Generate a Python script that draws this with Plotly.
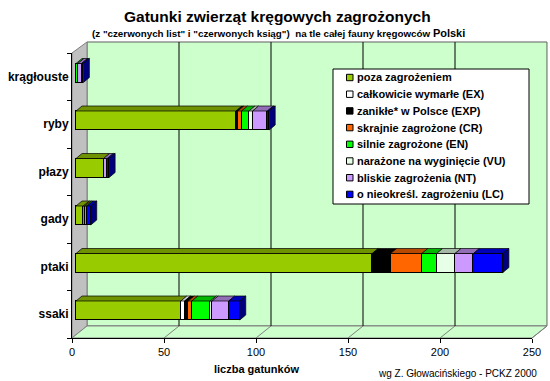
import plotly.graph_objects as go

W, H = 550, 381

# ---------------- data ----------------
categories = ['krągłouste', 'ryby', 'płazy', 'gady', 'ptaki', 'ssaki']  # top -> bottom
series_names = ['poza zagrożeniem', 'całkowicie wymarłe (EX)', 'zanikłe* w Polsce (EXP)',
                'skrajnie zagrożone (CR)', 'silnie zagrożone (EN)', 'narażone na wyginięcie (VU)',
                'bliskie zagrożenia (NT)', 'o nieokreśl. zagrożeniu (LC)']
poza = [0, 87, 15, 4, 161, 57]
ex   = [0, 0, 0, 0, 0, 2]
exp_ = [0, 1, 0, 0, 10, 2]
cr   = [0, 2, 0, 1, 17, 2]
en   = [1, 4, 0, 1, 8, 10]
vu   = [0, 2, 0, 0, 10, 1]
nt   = [2, 8, 2, 0, 10, 9]
lc   = [1, 1, 1, 2, 16, 6]
x_ticks = [0, 50, 100, 150, 200, 250]

series_values = [poza, ex, exp_, cr, en, vu, nt, lc]
colors = ['#99CC00', '#FFFFFF', '#000000', '#FF6600', '#00FF00', '#E6FFE6', '#CC99FF', '#0000FF']

# ---------------- geometry helpers ----------------
def PX(x):
    return x / W

def PY(y):
    return 1 - y / H

FRONT_X0, BACK_X0 = 72, 87        # pixel position of value 0 on front / back plane
SCALE = 1.84                      # px per unit
FRONT_Y, BACK_Y, TOP_BACK, TOP_FRONT = 338, 326, 42, 53
BAR_X0 = 76
DEPTH_DX, DEPTH_DY = 6, 5         # bar 3D depth in px
CAT_PX = (FRONT_Y - TOP_FRONT) / len(categories)
BAR_W = 0.4
BAR_OFF = -0.2 + 3.75 / CAT_PX

cat_order = list(reversed(categories))  # index 0 at bottom

def shade(hexcol, f):
    h = hexcol.lstrip('#')
    r, g, b = (int(h[i:i + 2], 16) for i in (0, 2, 4))
    return '#%02X%02X%02X' % (int(r * f), int(g * f), int(b * f))

FONT = 'Arial, Liberation Sans, sans-serif'

fig = go.Figure()

# ---------------- bars ----------------
for name, vals, col in zip(series_names, series_values, colors):
    fig.add_trace(go.Bar(
        orientation='h', y=categories, x=vals, name=name,
        xaxis='x2', yaxis='y', width=BAR_W, offset=BAR_OFF,
        marker=dict(color=col, line=dict(color='#000000', width=1)),
        showlegend=False, hoverinfo='x+y'))

# invisible helpers to instantiate the axes
fig.add_trace(go.Scatter(x=[0], y=[categories[-1]], xaxis='x', yaxis='y', mode='markers',
                         marker=dict(opacity=0), showlegend=False, hoverinfo='skip'))
fig.add_trace(go.Scatter(x=[0], y=[0], xaxis='x2', yaxis='y2', mode='markers',
                         marker=dict(opacity=0), showlegend=False, hoverinfo='skip'))

shapes = []

# ---------------- walls / floor ----------------
back_right = BACK_X0 + SCALE * x_ticks[-1]
front_right = FRONT_X0 + SCALE * x_ticks[-1]
def poly(pts):
    return 'M ' + ' L '.join('%.4f,%.4f' % (PX(x), PY(y)) for x, y in pts) + ' Z'

shapes.append(dict(type='path', xref='paper', yref='paper', layer='below',
                   path=poly([(BACK_X0, TOP_BACK), (back_right, TOP_BACK), (back_right, BACK_Y), (BACK_X0, BACK_Y)]),
                   fillcolor='#CCFFCC', line=dict(color='#606060', width=1)))
shapes.append(dict(type='path', xref='paper', yref='paper', layer='below',
                   path=poly([(FRONT_X0, TOP_FRONT), (BACK_X0, TOP_BACK), (BACK_X0, BACK_Y), (FRONT_X0, FRONT_Y)]),
                   fillcolor='#C0C0C0', line=dict(color='#808080', width=1)))
shapes.append(dict(type='path', xref='paper', yref='paper', layer='below',
                   path=poly([(FRONT_X0, FRONT_Y), (BACK_X0, BACK_Y), (back_right, BACK_Y), (front_right, FRONT_Y)]),
                   fillcolor='#CCFFCC', line=dict(color='#808080', width=1)))
for v in x_ticks[1:-1]:
    bx = BACK_X0 + SCALE * v
    shapes.append(dict(type='line', xref='paper', yref='paper', layer='below',
                       x0=PX(bx), x1=PX(bx), y0=PY(TOP_BACK), y1=PY(BACK_Y),
                       line=dict(color='#000000', width=1)))
for v in x_ticks[1:]:
    shapes.append(dict(type='line', xref='paper', yref='paper', layer='below',
                       x0=PX(FRONT_X0 + SCALE * v), y0=PY(FRONT_Y),
                       x1=PX(BACK_X0 + SCALE * v), y1=PY(BACK_Y),
                       line=dict(color='#808080', width=1)))

# ---------------- 3D faces of bars ----------------
dx = DEPTH_DX / SCALE
dy = DEPTH_DY / CAT_PX
for ci, cat in enumerate(categories):
    idx = cat_order.index(cat)
    yb = idx + BAR_OFF
    yt = yb + BAR_W
    cum = 0
    last_col = None
    for vals, col in zip(series_values, colors):
        v = vals[ci]
        if v <= 0:
            continue
        x0, x1 = cum, cum + v
        shapes.append(dict(type='path', xref='x2', yref='y2', layer='above',
                           path='M %f,%f L %f,%f L %f,%f L %f,%f Z' % (x0, yt, x1, yt, x1 + dx, yt + dy, x0 + dx, yt + dy),
                           fillcolor=shade(col, 0.72) if col != '#FFFFFF' else '#D0D0D0',
                           line=dict(color='#000000', width=0.7)))
        cum = x1
        last_col = col
    if last_col is not None:
        shapes.append(dict(type='path', xref='x2', yref='y2', layer='above',
                           path='M %f,%f L %f,%f L %f,%f L %f,%f Z' % (cum, yb, cum, yt, cum + dx, yt + dy, cum + dx, yb + dy),
                           fillcolor=shade(last_col, 0.5) if last_col != '#FFFFFF' else '#A0A0A0',
                           line=dict(color='#000000', width=0.7)))

# ---------------- manual legend ----------------
LEG_X0, LEG_X1, LEG_Y0, LEG_Y1 = 333, 529, 69, 204
shapes.append(dict(type='rect', xref='paper', yref='paper', layer='above',
                   x0=PX(LEG_X0), x1=PX(LEG_X1), y0=PY(LEG_Y1), y1=PY(LEG_Y0),
                   fillcolor='#FFFFFF', line=dict(color='#000000', width=1)))
annotations = []
for i, (name, col) in enumerate(zip(series_names, colors)):
    yc = 77.5 + 16.7 * i
    shapes.append(dict(type='rect', xref='paper', yref='paper', layer='above',
                       x0=PX(346.5), x1=PX(353), y0=PY(yc + 3.2), y1=PY(yc - 3.2),
                       fillcolor=col, line=dict(color='#000000', width=1)))
    annotations.append(dict(xref='paper', yref='paper', x=PX(355), y=PY(yc), xanchor='left', yanchor='middle',
                            text=name, showarrow=False,
                            font=dict(family=FONT, size=11, color='#000000', weight='bold')))

# ---------------- texts ----------------
annotations.append(dict(xref='paper', yref='paper', x=PX(277), y=PY(16), xanchor='center', yanchor='middle',
                        text='Gatunki zwierząt kręgowych zagrożonych', showarrow=False,
                        font=dict(family=FONT, size=15.5, color='#000000', weight='bold')))
annotations.append(dict(xref='paper', yref='paper', x=PX(278), y=PY(33), xanchor='center', yanchor='middle',
                        text='(z "czerwonych list" i "czerwonych ksiąg")  na tle całej fauny kręgowców <span style="font-size:11px">Polski</span>',
                        showarrow=False,
                        font=dict(family=FONT, size=9.8, color='#000000', weight='bold')))
annotations.append(dict(xref='paper', yref='paper', x=PX(256), y=PY(369), xanchor='center', yanchor='middle',
                        text='liczba gatunków', showarrow=False,
                        font=dict(family=FONT, size=11, color='#000000', weight='bold')))
annotations.append(dict(xref='paper', yref='paper', x=PX(539), y=PY(373), xanchor='right', yanchor='middle',
                        text='wg Z. Głowacińskiego - PCKZ 2000', showarrow=False,
                        font=dict(family=FONT, size=10, color='#000000')))

fig.update_layout(
    width=W, height=H,
    margin=dict(l=0, r=0, t=0, b=0),
    paper_bgcolor='#FFFFFF', plot_bgcolor='rgba(0,0,0,0)',
    barmode='stack', bargap=0,
    showlegend=False,
    shapes=shapes, annotations=annotations,
    xaxis=dict(domain=[PX(FRONT_X0), PX(front_right)], range=[x_ticks[0], x_ticks[-1]],
               anchor='y', tickvals=x_ticks, ticks='outside', ticklen=4, tickcolor='#000000',
               showline=True, linecolor='#000000', linewidth=1, showgrid=False, zeroline=False,
               tickfont=dict(family=FONT, size=11, color='#000000'),
               fixedrange=True, automargin=False),
    xaxis2=dict(domain=[PX(FRONT_X0), PX(548)],
                range=[(FRONT_X0 - BAR_X0) / SCALE, (548 - BAR_X0) / SCALE],
                anchor='y', visible=False, showgrid=False, zeroline=False, fixedrange=True, automargin=False),
    yaxis=dict(domain=[PY(FRONT_Y), PY(TOP_FRONT)], type='category',
               categoryorder='array', categoryarray=cat_order, range=[-0.5, len(categories) - 0.5],
               anchor='x', tickson='boundaries', ticks='outside', ticklen=4, tickcolor='#000000',
               showline=True, linecolor='#000000', linewidth=1, showgrid=False, zeroline=False,
               tickfont=dict(family=FONT, size=12, color='#000000', weight='bold'),
               fixedrange=True, automargin=False),
    yaxis2=dict(overlaying='y', anchor='x2', range=[-0.5, len(categories) - 0.5],
                visible=False, showgrid=False, zeroline=False, fixedrange=True, automargin=False),
)

fig.write_html('out.html',
               config={'displayModeBar': False},
               post_script="document.body.style.margin='0';document.body.style.padding='0';"
                           "document.body.style.overflow='hidden';")
